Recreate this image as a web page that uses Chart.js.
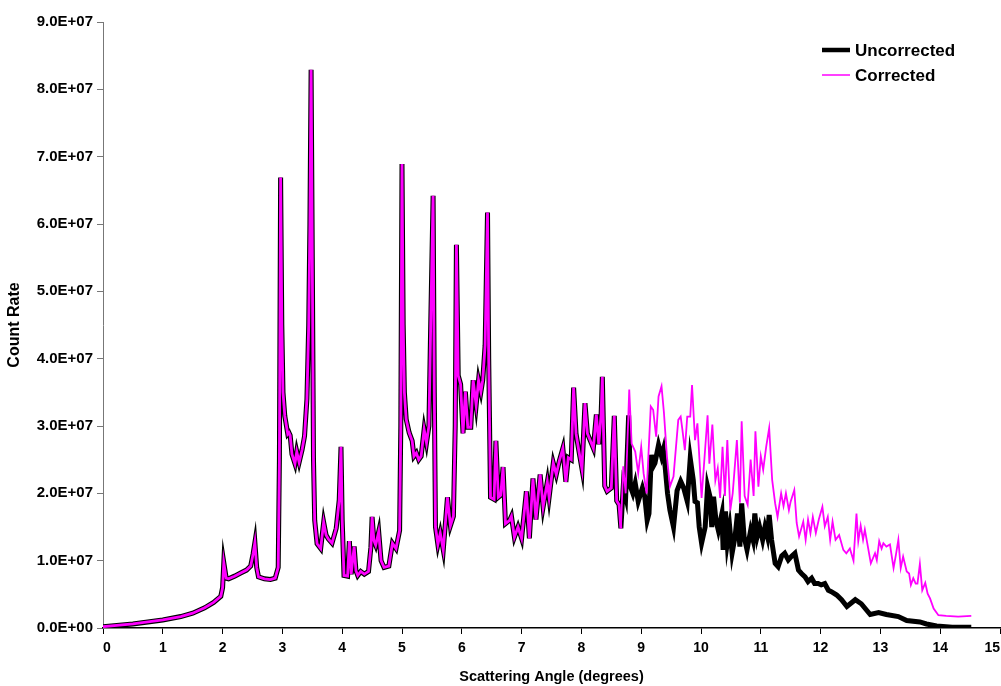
<!DOCTYPE html>
<html>
<head>
<meta charset="utf-8">
<script src="https://cdn.jsdelivr.net/npm/chart.js@4.4.1/dist/chart.umd.min.js"></script>
<style>
  html, body { margin: 0; padding: 0; background: #fff; }
  canvas { display: block; }
</style>
</head>
<body>
<canvas id="myChart" width="1001" height="686"></canvas>
<script>
// counts are in units of 1E+07
const angleShared = [0, 0.5, 1.0, 1.3, 1.5, 1.7, 1.85, 1.97, 2.0, 2.02, 2.06, 2.1, 2.2, 2.31, 2.4, 2.47, 2.51, 2.54, 2.57, 2.6,
    2.7, 2.8, 2.88, 2.93, 2.95, 2.97, 2.99, 3.01, 3.04, 3.09, 3.11, 3.13, 3.16, 3.21, 3.24, 3.28, 3.33, 3.37, 3.41, 3.44,
    3.46, 3.48, 3.50, 3.52, 3.54, 3.58, 3.64, 3.69, 3.73, 3.77, 3.83, 3.9, 3.95, 3.98, 4.0, 4.03, 4.09, 4.12, 4.15, 4.2,
    4.23, 4.26, 4.31, 4.37, 4.44, 4.48, 4.5, 4.53, 4.56, 4.61, 4.65, 4.7, 4.78, 4.84, 4.9, 4.96, 4.98, 5.0, 5.02, 5.04,
    5.07, 5.12, 5.17, 5.2, 5.24, 5.28, 5.32, 5.37, 5.41, 5.45, 5.48, 5.52, 5.54, 5.56, 5.6, 5.64, 5.69, 5.76, 5.81, 5.86,
    5.89, 5.91, 5.94, 5.98, 6.02, 6.06, 6.1, 6.15, 6.19, 6.24, 6.28, 6.32, 6.35, 6.39, 6.43, 6.45, 6.48, 6.54, 6.57, 6.61,
    6.65, 6.69, 6.73, 6.8, 6.83, 6.88, 6.94, 7.0, 7.08, 7.13, 7.19, 7.24, 7.31, 7.36, 7.43, 7.46, 7.53, 7.58, 7.63, 7.69,
    7.74, 7.78, 7.83, 7.87, 7.91, 7.95, 8.01, 8.06, 8.1, 8.15, 8.2, 8.25, 8.29, 8.33, 8.35, 8.39, 8.43, 8.5, 8.55, 8.59,
    8.63, 8.66];
const countShared = [0.02, 0.06, 0.12, 0.17, 0.22, 0.30, 0.38, 0.47, 0.6, 0.97, 0.74, 0.73, 0.77, 0.82, 0.86, 0.92, 1.1, 1.27, 0.9, 0.76,
    0.73, 0.72, 0.74, 0.9, 2.5, 6.69, 4.5, 3.5, 3.15, 2.88, 2.9, 2.86, 2.58, 2.44, 2.62, 2.46, 2.65, 2.85, 3.4, 4.5,
    6.0, 8.29, 5.5, 2.5, 1.6, 1.25, 1.18, 1.57, 1.38, 1.32, 1.26, 1.48, 1.9, 2.69, 1.6, 0.78, 0.77, 1.29, 0.8, 1.21,
    0.85, 0.78, 0.84, 0.8, 0.84, 1.2, 1.65, 1.3, 1.23, 1.43, 1.0, 0.9, 0.92, 1.26, 1.18, 1.45, 3.0, 6.89, 4.5, 3.5,
    3.1, 2.9, 2.78, 2.55, 2.6, 2.5, 2.55, 2.95, 2.75, 3.0, 4.5, 6.42, 3.5, 1.5, 1.24, 1.41, 1.16, 1.94, 1.52, 1.66,
    3.0, 5.69, 3.75, 3.62, 2.89, 3.51, 2.98, 2.98, 3.68, 3.31, 3.68, 3.51, 3.68, 4.2, 6.17, 4.0, 1.94, 1.91, 2.78, 1.94,
    1.97, 2.39, 1.55, 1.6, 1.66, 1.35, 1.5, 1.33, 2.03, 1.33, 2.22, 1.61, 2.28, 1.8, 2.17, 1.94, 2.45, 2.28, 2.48, 2.67,
    2.17, 2.53, 2.5, 3.57, 2.89, 2.67, 2.36, 3.34, 2.89, 2.78, 2.67, 3.17, 2.73, 3.17, 3.73, 2.11, 2.03, 2.08, 3.15, 1.89,
    1.83, 1.48];

const angleUncorrected = [8.70, 8.74, 8.79, 8.82, 8.86, 8.9, 8.95, 9.02, 9.06, 9.10, 9.13, 9.17, 9.2, 9.23, 9.29, 9.34, 9.37, 9.4, 9.44, 9.48,
    9.54, 9.6, 9.66, 9.71, 9.77, 9.82, 9.87, 9.9, 9.94, 9.97, 10.01, 10.07, 10.11, 10.15, 10.18, 10.21, 10.25, 10.29, 10.35, 10.37,
    10.41, 10.44, 10.48, 10.52, 10.57, 10.61, 10.65, 10.68, 10.72, 10.77, 10.83, 10.87, 10.9, 10.94, 10.98, 11.03, 11.07, 11.11, 11.14, 11.18,
    11.24, 11.29, 11.35, 11.4, 11.46, 11.52, 11.57, 11.63, 11.68, 11.74, 11.79, 11.85, 11.9, 11.96, 12.01, 12.07, 12.13, 12.18, 12.27, 12.35,
    12.44, 12.58, 12.68, 12.83, 12.97, 13.1, 13.3, 13.44, 13.66, 13.77, 13.94, 14.2, 14.52];
const countUncorrected = [2.1, 1.95, 3.16, 2.1, 2.0, 2.15, 1.88, 2.08, 1.95, 1.6, 1.7, 2.57, 2.4, 2.45, 2.72, 2.55, 2.65, 2.4, 2.0, 1.75,
    1.5, 2.04, 2.18, 2.08, 1.88, 2.52, 2.2, 1.88, 1.86, 1.5, 1.26, 1.5, 2.1, 1.95, 1.5, 1.95, 1.6, 1.45, 1.7, 1.16,
    1.73, 1.26, 1.5, 1.11, 1.36, 1.7, 1.21, 1.85, 1.36, 1.16, 1.45, 1.31, 1.7, 1.36, 1.5, 1.31, 1.5, 1.36, 1.68, 1.31,
    0.96, 0.91, 1.07, 1.11, 1.01, 1.07, 1.11, 0.86, 0.81, 0.76, 0.69, 0.74, 0.66, 0.66, 0.64, 0.66, 0.56, 0.54, 0.49, 0.42,
    0.32, 0.42, 0.36, 0.2, 0.23, 0.2, 0.17, 0.11, 0.09, 0.06, 0.03, 0.01, 0.01];

const angleCorrected = [8.70, 8.74, 8.80, 8.84, 8.9, 8.95, 9.0, 9.04, 9.09, 9.16, 9.2, 9.25, 9.29, 9.34, 9.38, 9.43, 9.48, 9.54, 9.62, 9.66,
    9.69, 9.73, 9.77, 9.82, 9.85, 9.9, 9.94, 10.01, 10.11, 10.14, 10.19, 10.24, 10.28, 10.32, 10.36, 10.4, 10.44, 10.49, 10.53, 10.6,
    10.65, 10.68, 10.73, 10.78, 10.83, 10.88, 10.91, 10.96, 11.0, 11.04, 11.09, 11.14, 11.19, 11.24, 11.28, 11.34, 11.38, 11.42, 11.47, 11.5,
    11.56, 11.6, 11.64, 11.71, 11.75, 11.79, 11.83, 11.87, 11.92, 11.97, 12.03, 12.07, 12.12, 12.16, 12.2, 12.25, 12.31, 12.38, 12.43, 12.49,
    12.55, 12.6, 12.63, 12.67, 12.71, 12.74, 12.78, 12.84, 12.91, 12.94, 12.98, 13.02, 13.05, 13.1, 13.16, 13.22, 13.26, 13.3, 13.34, 13.38,
    13.44, 13.48, 13.51, 13.55, 13.59, 13.62, 13.66, 13.7, 13.75, 13.79, 13.83, 13.89, 13.97, 14.1, 14.3, 14.52];
const countCorrected = [2.4, 2.0, 3.54, 2.74, 2.62, 2.3, 2.69, 2.3, 2.0, 3.29, 3.24, 2.84, 3.44, 3.59, 3.2, 2.55, 2.1, 2.25, 3.09, 3.14,
    2.94, 2.64, 3.14, 3.14, 3.61, 2.79, 3.04, 1.93, 3.16, 2.44, 3.02, 2.19, 2.37, 1.93, 2.69, 1.96, 2.79, 1.75, 2.0, 2.79,
    1.86, 3.07, 1.96, 1.83, 2.5, 1.96, 2.92, 2.1, 2.55, 2.35, 2.69, 2.97, 2.2, 1.85, 1.65, 2.0, 1.81, 2.0, 1.75, 1.88,
    2.05, 1.56, 1.36, 1.58, 1.31, 1.61, 1.41, 1.65, 1.41, 1.61, 1.8, 1.51, 1.65, 1.31, 1.58, 1.31, 1.38, 1.16, 1.11, 1.18,
    1.0, 1.7, 1.29, 1.52, 1.31, 1.46, 1.26, 0.96, 1.11, 1.01, 1.29, 1.18, 1.26, 1.21, 1.24, 0.89, 1.09, 1.31, 0.89, 1.06,
    0.84, 0.81, 0.64, 0.74, 0.66, 0.66, 0.95, 0.56, 0.67, 0.51, 0.44, 0.29, 0.19, 0.18, 0.17, 0.18];

const xTicks = [0, 1, 2, 3, 4, 5, 6, 7, 8, 9, 10, 11, 12, 13, 14, 15];

const FONT = "'Liberation Sans', Arial, sans-serif";

function toPoints(xs, ys) {
    return xs.map((x, i) => ({x: x, y: ys[i]}));
}
const sharedPts = toPoints(angleShared, countShared);
const lastShared = angleShared[angleShared.length - 1];

const legendPlugin = {
    id: 'insideLegend',
    afterDraw(chart) {
        const ctx = chart.ctx;
        const ds = chart.data.datasets;
        ctx.save();
        ctx.font = 'bold 17px ' + FONT;
        ctx.fillStyle = '#000';
        ctx.textBaseline = 'middle';
        const rows = [{i: 0, y: 50, w: 4.5}, {i: 1, y: 75, w: 1.5}];
        rows.forEach(r => {
            ctx.strokeStyle = ds[r.i].borderColor;
            ctx.lineWidth = r.w;
            ctx.beginPath();
            ctx.moveTo(822, r.y);
            ctx.lineTo(850, r.y);
            ctx.stroke();
            ctx.fillText(ds[r.i].label, 855, r.y + 1);
        });
        ctx.restore();
    }
};

const config = {
    type: 'line',
    data: {
        datasets: [{
            label: 'Uncorrected',
            data: sharedPts.concat(toPoints(angleUncorrected, countUncorrected)),
            borderColor: '#000000',
            borderWidth: 5,
            pointRadius: 0,
            tension: 0,
            order: 2
        }, {
            label: 'Corrected',
            data: sharedPts.concat(toPoints(angleCorrected, countCorrected)),
            borderColor: '#FF00FF',
            borderWidth: 2,
            pointRadius: 0,
            tension: 0,
            order: 1,
            segment: {
                borderWidth: c => c.p0.parsed.x < lastShared ? 2.8 : 1.8
            }
        }]
    },
    options: {
        responsive: false,
        animation: false,
        layout: {
            padding: {top: 22, right: 1, left: 0, bottom: 0}
        },
        plugins: {
            legend: {display: false},
            tooltip: {enabled: false}
        },
        scales: {
            x: {
                type: 'linear',
                min: 0,
                max: 15,
                afterBuildTicks: s => { s.ticks = xTicks.map(v => ({value: v})); },
                ticks: {
                    color: '#000',
                    font: {family: FONT, size: 14, weight: 'bold'},
                    padding: 6,
                    align: 'inner',
                    maxRotation: 0
                },
                grid: {drawOnChartArea: false, tickLength: 6, color: '#000'},
                border: {color: '#000', width: 1.5},
                title: {
                    display: true,
                    text: 'Scattering Angle (degrees)',
                    color: '#000',
                    font: {family: FONT, size: 14.5, weight: 'bold'},
                    padding: {top: 8, bottom: 0}
                },
                afterFit: s => { s.height = 58; s.paddingRight = 0; s.paddingLeft = 0; }
            },
            y: {
                min: 0,
                max: 9,
                ticks: {
                    stepSize: 1,
                    color: '#000',
                    font: {family: FONT, size: 15, weight: 'bold'},
                    padding: 4,
                    callback: v => v === 0 ? '0.0E+00' : v.toFixed(1) + 'E+07'
                },
                grid: {drawOnChartArea: false, tickLength: 6, color: '#777'},
                border: {color: '#777', width: 1},
                title: {
                    display: true,
                    text: 'Count Rate',
                    color: '#000',
                    font: {family: FONT, size: 16, weight: 'bold'},
                    padding: {top: 5, bottom: 0}
                },
                afterFit: s => { s.width = 103; s.paddingTop = 0; }
            }
        }
    },
    plugins: [legendPlugin]
};

const myChart = new Chart(document.getElementById('myChart'), config);
</script>
</body>
</html>
